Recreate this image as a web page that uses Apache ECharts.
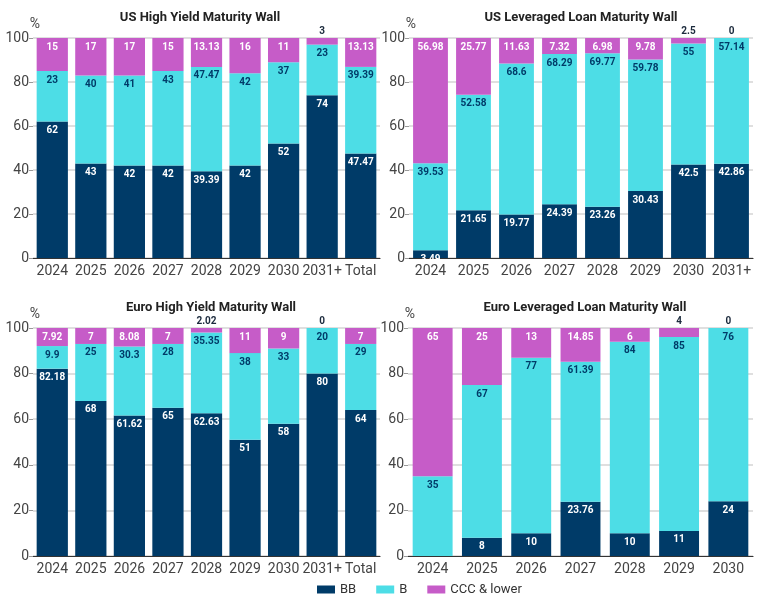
<!DOCTYPE html>
<html>
<head>
<meta charset="utf-8">
<script src="https://cdn.jsdelivr.net/npm/echarts@6/dist/echarts.min.js"></script>
<style>
  html, body { margin: 0; padding: 0; background: #fff; }
  #chart { width: 770px; height: 600px; }
</style>
</head>
<body>
<div id="chart"></div>
<script>
// categories
var hyYears = ['2024', '2025', '2026', '2027', '2028', '2029', '2030', '2031+', 'Total'];
var usLoanYears = ['2024', '2025', '2026', '2027', '2028', '2029', '2030', '2031+'];
var euLoanYears = ['2024', '2025', '2026', '2027', '2028', '2029', '2030'];

// US High Yield
var usHyBB = [62, 43, 42, 42, 39.39, 42, 52, 74, 47.47];
var usHyB = [23, 40, 41, 43, 47.47, 42, 37, 23, 39.39];
var usHyCCC = [15, 17, 17, 15, 13.13, 16, 11, 3, 13.13];

// US Leveraged Loan
var usLlBB = [3.49, 21.65, 19.77, 24.39, 23.26, 30.43, 42.5, 42.86];
var usLlB = [39.53, 52.58, 68.6, 68.29, 69.77, 59.78, 55, 57.14];
var usLlCCC = [56.98, 25.77, 11.63, 7.32, 6.98, 9.78, 2.5, 0];

// Euro High Yield
var euHyBB = [82.18, 68, 61.62, 65, 62.63, 51, 58, 80, 64];
var euHyB = [9.9, 25, 30.3, 28, 35.35, 38, 33, 20, 29];
var euHyCCC = [7.92, 7, 8.08, 7, 2.02, 11, 9, 0, 7];

// Euro Leveraged Loan
var euLlBB = [0, 8, 10, 23.76, 10, 11, 24];
var euLlB = [35, 67, 77, 61.39, 84, 85, 76];
var euLlCCC = [65, 25, 13, 14.85, 6, 4, 0];

var yTicks = [0, 20, 40, 60, 80, 100];

var navy = '#003b68';
var cyan = '#4ddde6';
var purple = '#c65cc8';
var font = 'Roboto';

var grids = [
  { left: 33, width: 347, top: 38, height: 220 },
  { left: 409, width: 344, top: 38, height: 220 },
  { left: 33, width: 347, top: 328, height: 228 },
  { left: 408, width: 345, top: 328, height: 228 }
];

var titles = [
  { text: 'US High Yield Maturity Wall', left: 195, top: 6 },
  { text: 'US Leveraged Loan Maturity Wall', left: 576, top: 6 },
  { text: 'Euro High Yield Maturity Wall', left: 206, top: 296 },
  { text: 'Euro Leveraged Loan Maturity Wall', left: 580, top: 296 }
];

var panels = [
  { cats: hyYears, bb: usHyBB, b: usHyB, ccc: usHyCCC },
  { cats: usLoanYears, bb: usLlBB, b: usLlB, ccc: usLlCCC },
  { cats: hyYears, bb: euHyBB, b: euHyB, ccc: euHyCCC },
  { cats: euLoanYears, bb: euLlBB, b: euLlB, ccc: euLlCCC }
];

function labelStyle(color) {
  return {
    show: true,
    position: 'insideTop',
    distance: 4,
    color: color,
    fontSize: 10,
    fontWeight: 'bold',
    fontFamily: font
  };
}

var xAxes = [], yAxes = [], series = [];
panels.forEach(function (p, i) {
  xAxes.push({
    type: 'category',
    gridIndex: i,
    data: p.cats,
    axisLine: { lineStyle: { color: '#333', width: 1.2 } },
    axisTick: { alignWithLabel: true, length: 5, lineStyle: { color: '#333' } },
    axisLabel: { color: '#444', fontSize: 14, fontFamily: font, margin: 6, interval: 0 }
  });
  yAxes.push({
    type: 'value',
    gridIndex: i,
    min: yTicks[0],
    max: yTicks[yTicks.length - 1],
    interval: yTicks[1] - yTicks[0],
    name: '%',
    nameGap: 4,
    nameTextStyle: { color: '#444', fontSize: 14, fontFamily: font, align: 'center', padding: [0, 0, 0, 4] },
    axisLine: { show: false },
    axisTick: { show: true, length: 4, lineStyle: { color: '#999' } },
    axisLabel: { color: '#444', fontSize: 14, fontFamily: font, margin: 4 },
    splitLine: { lineStyle: { color: '#d4d4d4', width: 1.5 } }
  });

  series.push({
    name: 'BB', type: 'bar', stack: 's' + i, xAxisIndex: i, yAxisIndex: i,
    barCategoryGap: '19%',
    itemStyle: { color: navy },
    data: p.bb.map(function (v) {
      return v === 0 ? { value: v, label: { show: false } } : v;
    }),
    label: labelStyle('#fff')
  });
  series.push({
    name: 'B', type: 'bar', stack: 's' + i, xAxisIndex: i, yAxisIndex: i,
    barCategoryGap: '19%',
    itemStyle: { color: cyan },
    data: p.b,
    label: labelStyle(navy)
  });
  series.push({
    name: 'CCC & lower', type: 'bar', stack: 's' + i, xAxisIndex: i, yAxisIndex: i,
    barCategoryGap: '19%',
    itemStyle: { color: purple },
    data: p.ccc.map(function (v) {
      // thin segments get their label above the bar
      return v < 5 ? { value: v, label: { position: 'top', distance: 2, color: '#1b2a3c' } } : v;
    }),
    label: labelStyle('#fff')
  });
});

var chart = echarts.init(document.getElementById('chart'));
chart.setOption({
  animation: false,
  backgroundColor: '#fff',
  title: titles.map(function (t) {
    return {
      text: t.text, left: t.left, top: t.top, textAlign: 'center',
      textStyle: { fontSize: 13, fontWeight: 'bold', color: '#222', fontFamily: font }
    };
  }),
  legend: {
    data: ['BB', 'B', 'CCC & lower'],
    left: 312,
    top: 578,
    itemWidth: 18,
    itemHeight: 8,
    itemGap: 20,
    icon: 'rect',
    textStyle: { color: '#333', fontSize: 13, fontFamily: font }
  },
  grid: grids,
  xAxis: xAxes,
  yAxis: yAxes,
  series: series
});
</script>
</body>
</html>
